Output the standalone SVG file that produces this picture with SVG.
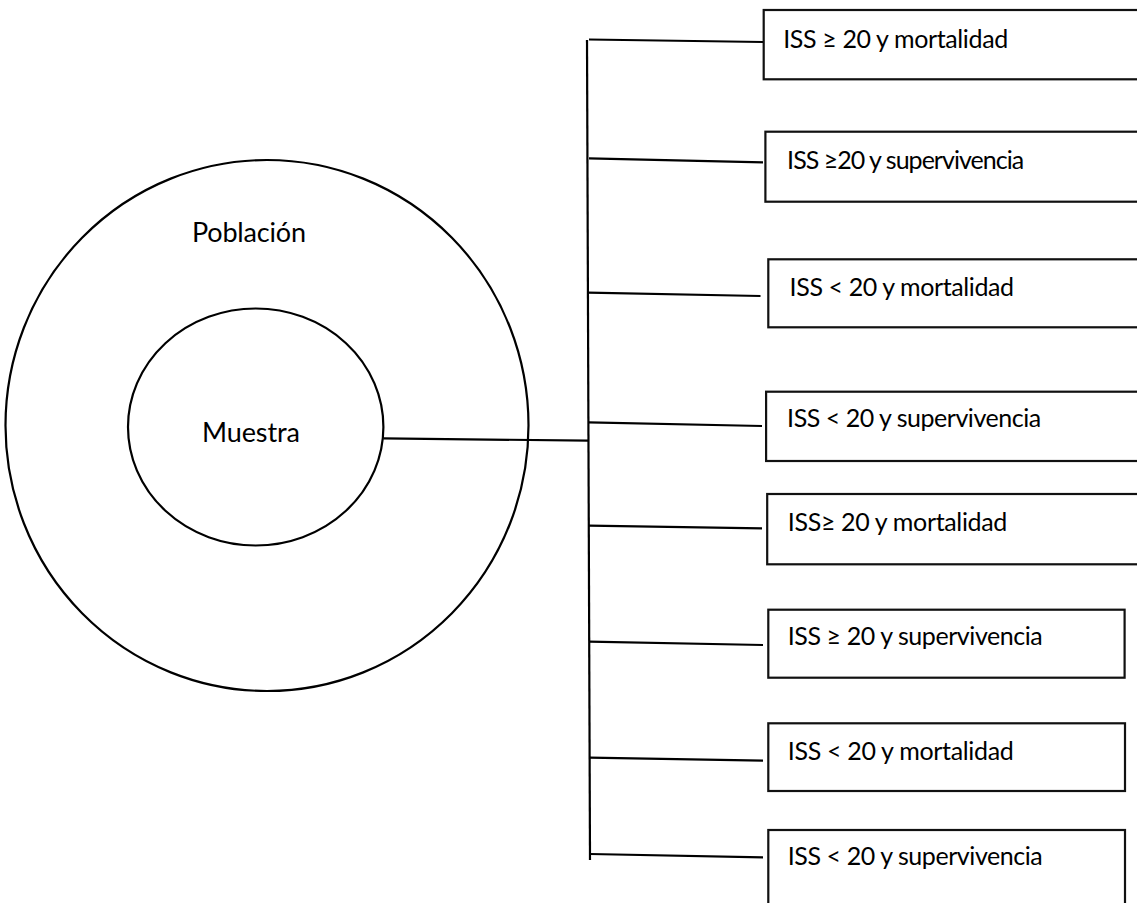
<svg xmlns="http://www.w3.org/2000/svg" width="1137" height="903" viewBox="0 0 1137 903">
<style>
.shape{fill:#fff;stroke:#000;stroke-width:2.2}
.box{fill:#fff;stroke:#111;stroke-width:2.2}
.conn{fill:none;stroke:#000;stroke-width:2.2}
.lbl{font-family:Lato,"Open Sans",sans-serif;font-size:25px;fill:#000}
.big{font-family:Lato,"Open Sans",sans-serif;font-size:27px;fill:#000}
</style>
<rect width="1137" height="903" fill="#fff"/>
<g id="poblacion">
<ellipse class="shape" cx="267" cy="425.5" rx="261.5" ry="265.5"/>
<text class="big" x="192" y="242" textLength="114">Población</text>
</g>
<g id="muestra">
<ellipse class="shape" cx="255.7" cy="427" rx="127.7" ry="118.5"/>
<text class="big" x="202" y="441.7" textLength="98">Muestra</text>
</g>
<g id="connectors">
<line class="conn" x1="383.3" y1="438.3" x2="588.3" y2="440.7"/>
<line class="conn" x1="587" y1="40" x2="590" y2="860"/>
<line class="conn" x1="589" y1="39.5" x2="763" y2="42"/>
<line class="conn" x1="589" y1="158.3" x2="763" y2="162.3"/>
<line class="conn" x1="588" y1="292.7" x2="760.5" y2="296"/>
<line class="conn" x1="588.5" y1="422.3" x2="762" y2="426"/>
<line class="conn" x1="589" y1="525.7" x2="762" y2="528.3"/>
<line class="conn" x1="589" y1="641.7" x2="763" y2="645"/>
<line class="conn" x1="589.5" y1="757.7" x2="763" y2="760.7"/>
<line class="conn" x1="590" y1="854" x2="763" y2="857.3"/>
</g>
<g id="box1">
<rect class="box" x="763.7" y="10" width="390" height="69.3"/>
<text class="lbl" x="783.2" y="48.3" textLength="225">ISS ≥ 20 y mortalidad</text>
</g>
<g id="box2">
<rect class="box" x="765.4" y="131.7" width="390" height="70"/>
<text class="lbl" x="787.1" y="169.3" textLength="237">ISS ≥20 y supervivencia</text>
</g>
<g id="box3">
<rect class="box" x="768.3" y="259.3" width="390" height="68"/>
<text class="lbl" x="789.6" y="296" textLength="224.5">ISS &lt; 20 y mortalidad</text>
</g>
<g id="box4">
<rect class="box" x="766.1" y="391.7" width="390" height="69.3"/>
<text class="lbl" x="787.1" y="426.7" textLength="254">ISS &lt; 20 y supervivencia</text>
</g>
<g id="box5">
<rect class="box" x="767.2" y="494" width="390" height="70.3"/>
<text class="lbl" x="787.8" y="531" textLength="219.5">ISS≥ 20 y mortalidad</text>
</g>
<g id="box6">
<rect class="box" x="768.3" y="609.7" width="356.3" height="68"/>
<text class="lbl" x="787.8" y="645" textLength="255">ISS ≥ 20 y supervivencia</text>
</g>
<g id="box7">
<rect class="box" x="768.3" y="723.3" width="356.7" height="67.7"/>
<text class="lbl" x="787.8" y="760" textLength="226">ISS &lt; 20 y mortalidad</text>
</g>
<g id="box8">
<rect class="box" x="768.3" y="830" width="356.7" height="100"/>
<text class="lbl" x="787.8" y="865" textLength="255">ISS &lt; 20 y supervivencia</text>
</g>
</svg>
